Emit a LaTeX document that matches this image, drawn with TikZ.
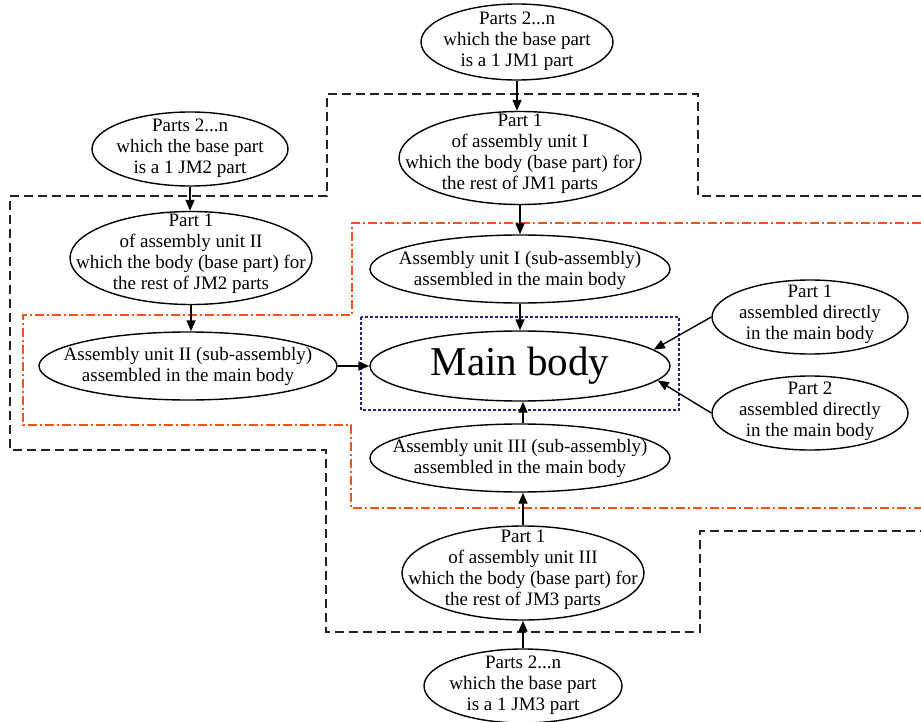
\documentclass[tikz,border=0pt]{standalone}
\usepackage{fontspec}
\setmainfont{Liberation Serif}
\usetikzlibrary{arrows.meta,shapes.geometric}
\definecolor{dashgray}{RGB}{35,35,35}
\definecolor{orangered}{RGB}{250,80,25}
\definecolor{navyblue}{RGB}{40,30,140}
\begin{document}
\begin{tikzpicture}[x=1pt,y=-1pt,
  ell/.style={draw, ellipse, line width=1.4pt, inner sep=0pt},
  txt/.style={align=center, font=\fontsize{19}{21}\selectfont, inner sep=0pt},
  arr/.style={line width=1.4pt, -{Triangle[length=11pt,width=9pt]}},
  blkdash/.style={dashgray, line width=1.8pt, dash pattern=on 9pt off 5pt},
  orgdash/.style={orangered, line width=1.6pt, dash pattern=on 9pt off 3pt on 2pt off 3pt},
  bludot/.style={navyblue, line width=1.5pt, dash pattern=on 3pt off 2pt}]
\useasboundingbox (0,0) rectangle (921,722);
% boundaries
\draw[blkdash] (921,196) -- (698,196) -- (698,94) -- (327,94) -- (327,196) -- (10,196) -- (10,450) -- (326,450) -- (326,632) -- (700,632) -- (700,531) -- (921,531);
\draw[orgdash] (921,223) -- (352,223) -- (352,315) -- (23,315) -- (23,425) -- (351,425) -- (351,508) -- (921,508);
\draw[bludot] (361,317) rectangle (679,410);
% ellipses
\node[ell, minimum width=192pt, minimum height=76pt] (j1) at (517,42) {};
\node[ell, minimum width=242pt, minimum height=93pt] (p1) at (520,158) {};
\node[ell, minimum width=300pt, minimum height=68pt] (a1) at (520,269) {};
\node[ell, minimum width=300pt, minimum height=70pt] (mb) at (520,366) {};
\node[ell, minimum width=300pt, minimum height=68pt] (a3) at (520,458) {};
\node[ell, minimum width=242pt, minimum height=94pt] (p3) at (523,573) {};
\node[ell, minimum width=198pt, minimum height=74pt] (b3) at (523,686) {};
\node[ell, minimum width=196pt, minimum height=74pt] (j2) at (190,149) {};
\node[ell, minimum width=242pt, minimum height=93pt] (p2) at (191,258) {};
\node[ell, minimum width=298pt, minimum height=68pt] (a2) at (188,366) {};
\node[ell, minimum width=196pt, minimum height=74pt] (d1) at (810,317) {};
\node[ell, minimum width=196pt, minimum height=74pt] (d2) at (810,413) {};
% texts
\node[txt] (tj1) at (517,41) {Parts 2...n\\which the base part\\is a 1 JM1 part};
\node[txt] (tp1) at (520,154) {Part 1\\of assembly unit I\\which the body (base part) for\\the rest of JM1 parts};
\node[txt] (ta1) at (520,270) {Assembly unit I (sub-assembly)\\assembled in the main body};
\node[txt, font=\fontsize{41}{45}\selectfont] (tmb) at (520,366) {Main body};
\node[txt] (ta3) at (520,458) {Assembly unit III (sub-assembly)\\assembled in the main body};
\node[txt] (tp3) at (523,570) {Part 1\\of assembly unit III\\which the body (base part) for\\the rest of JM3 parts};
\node[txt] (tb3) at (523,685) {Parts 2...n\\which the base part\\is a 1 JM3 part};
\node[txt] (tj2) at (190,148) {Parts 2...n\\which the base part\\is a 1 JM2 part};
\node[txt] (tp2) at (191,254) {Part 1\\of assembly unit II\\which the body (base part) for\\the rest of JM2 parts};
\node[txt] (ta2) at (188,366) {Assembly unit II (sub-assembly)\\assembled in the main body};
\node[txt] (td1) at (810,314) {Part 1\\assembled directly\\in the main body};
\node[txt] (td2) at (810,411) {Part 2\\assembled directly\\in the main body};
% arrows
\draw[arr] (j1.south) -- (j1.south |- p1.north);
\draw[arr] (p1.south) -- (p1.south |- a1.north);
\draw[arr] (a1.south) -- (a1.south |- mb.north);
\draw[arr] (b3.north) -- (b3.north |- p3.south);
\draw[arr] (p3.north) -- (p3.north |- a3.south);
\draw[arr] (p3.north |- a3.north) -- (p3.north |- mb.south);
\draw[arr] (j2.south) -- (j2.south |- p2.north);
\draw[arr] (p2.south) -- (p2.south |- a2.north);
\draw[arr] (a2.east) -- (mb.west);
\draw[arr] (d1.west) -- (mb.7);
\draw[arr] (d2.west) -- (mb.-6);
\end{tikzpicture}
\end{document}
